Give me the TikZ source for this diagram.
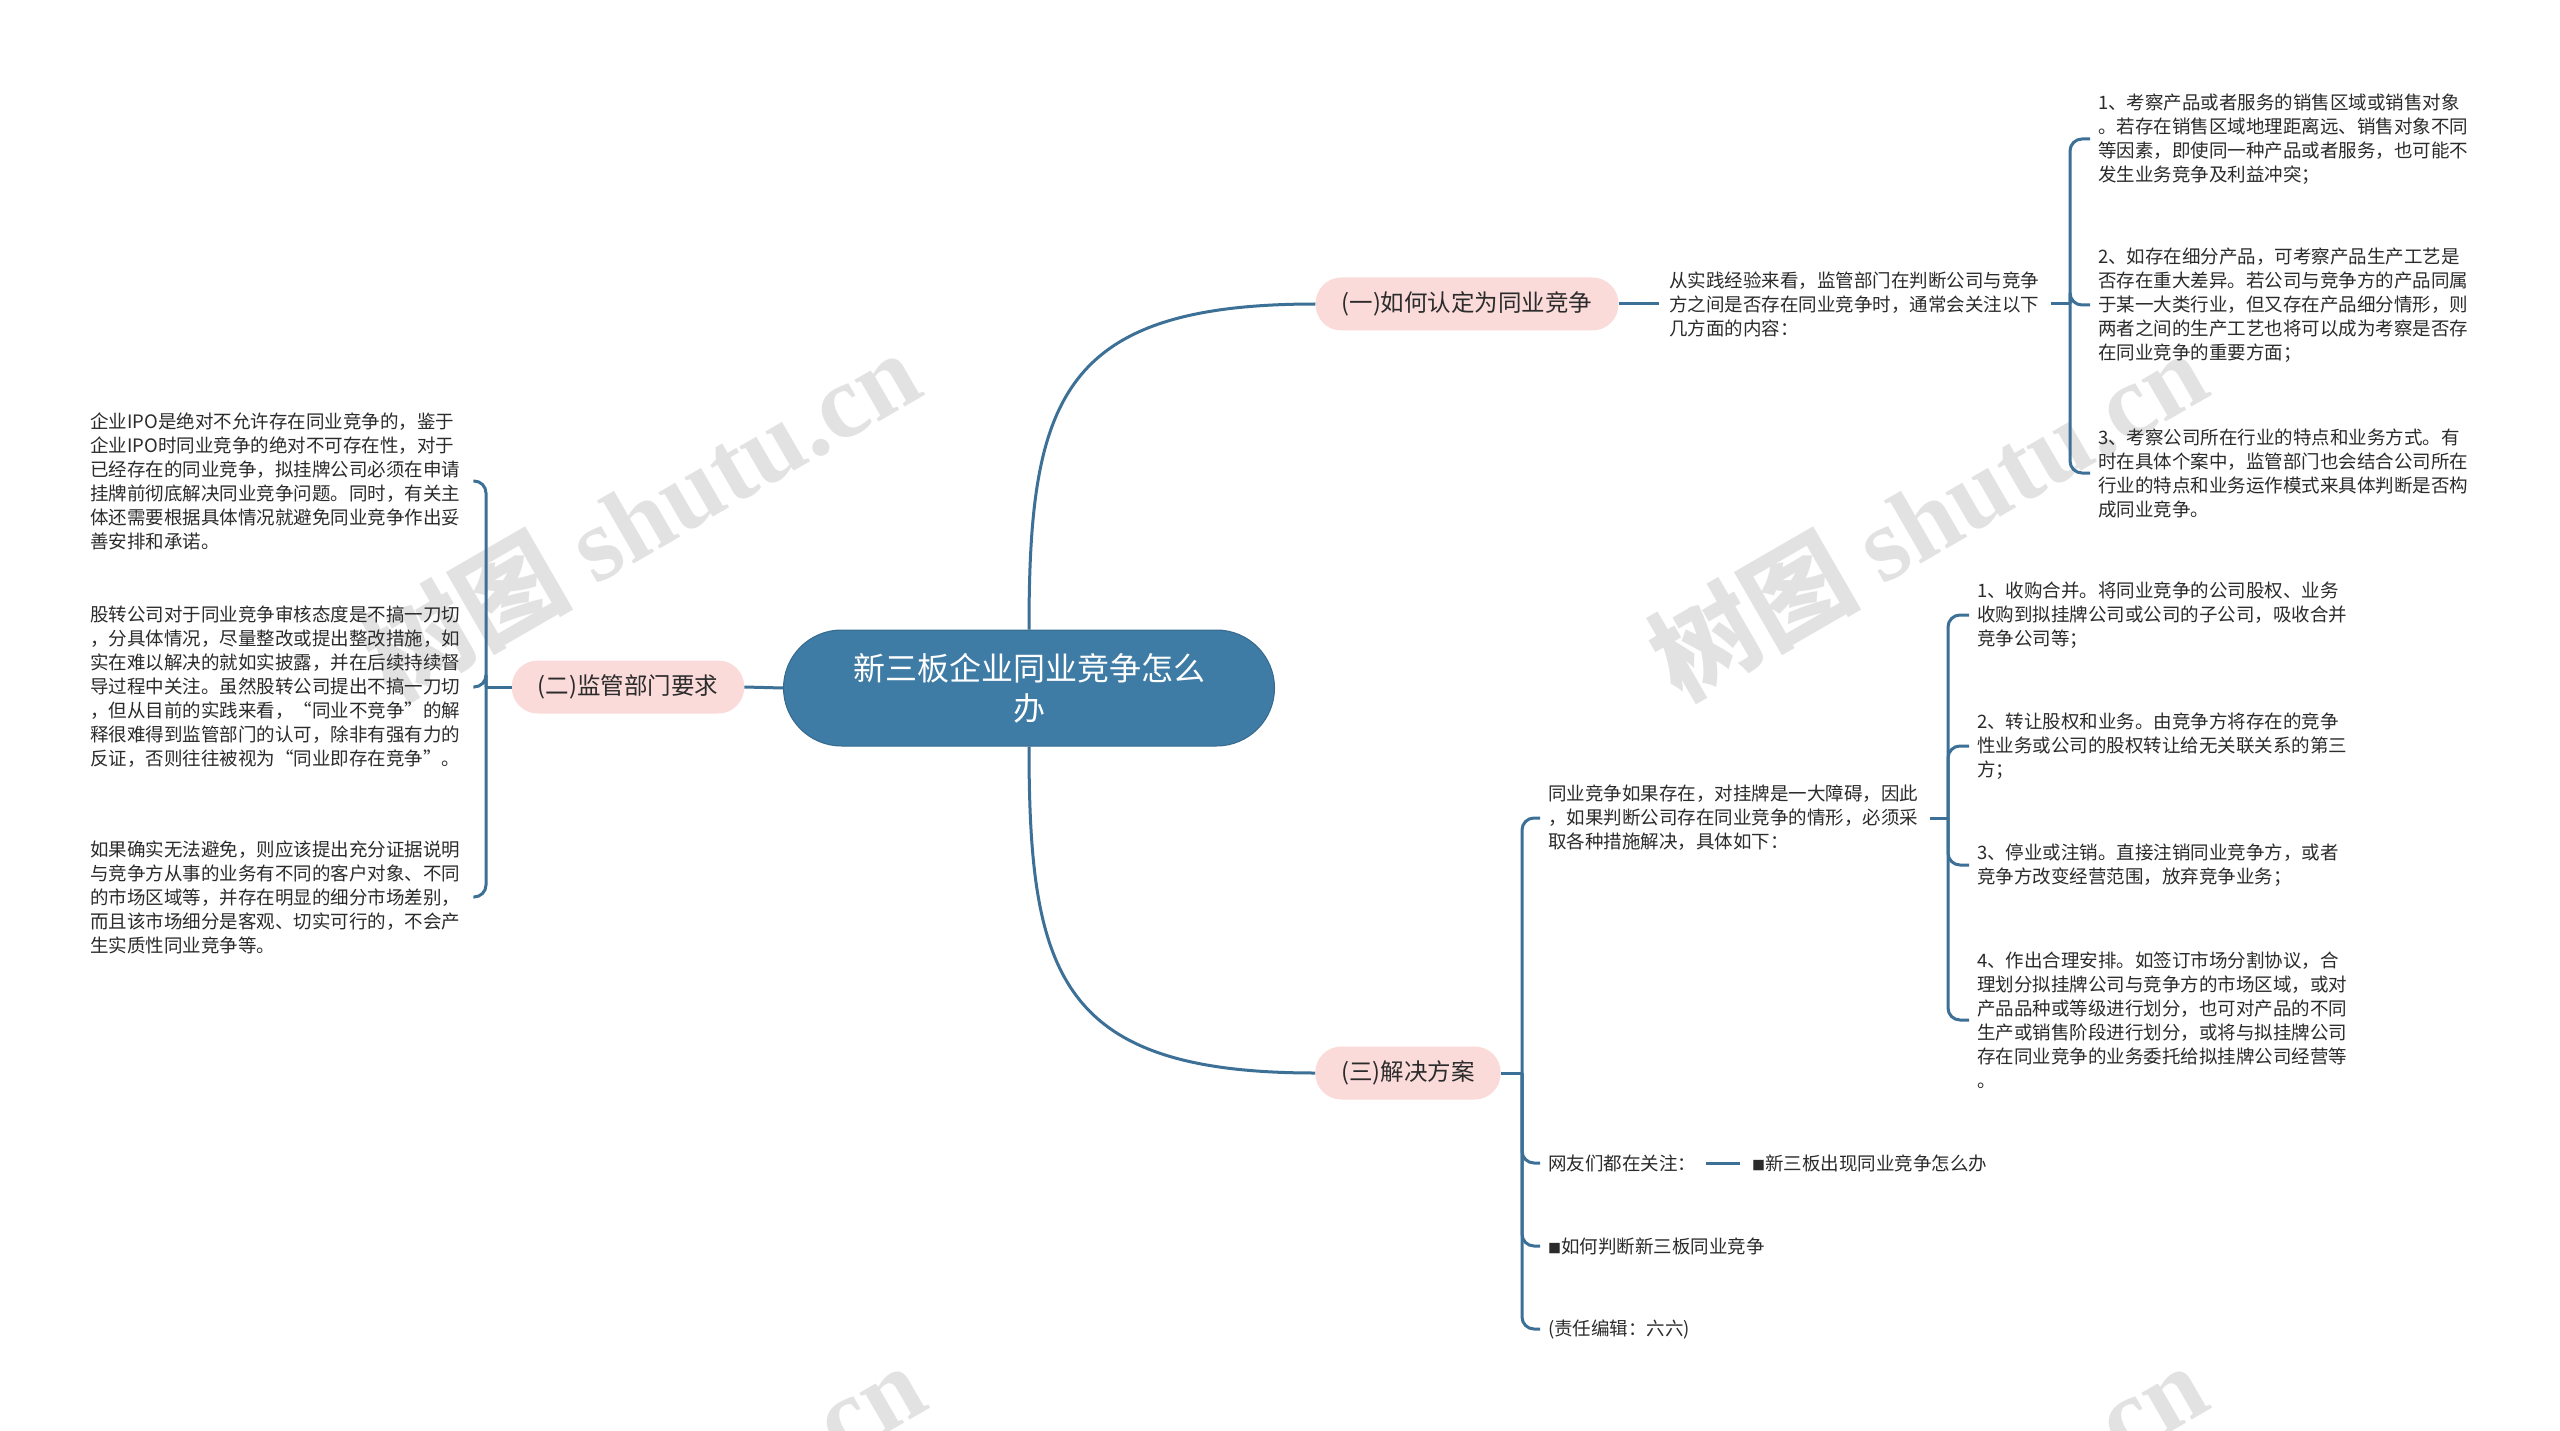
\documentclass[tikz,border=0pt]{standalone}
\usepackage{fontspec}
\setmainfont{Noto Sans CJK SC}
\newfontfamily\wmlatin{Liberation Serif}
\definecolor{lc}{HTML}{3C7096}
\definecolor{rootc}{HTML}{3E7CA6}
\definecolor{pinkc}{HTML}{FADBDA}
\definecolor{txtc}{HTML}{2B2B2B}
\newcommand{\sqmark}{{\fontsize{13}{13}\selectfont ■}}
\tikzset{
  conn/.style={draw=lc, line width=3pt},
  rootbox/.style={fill=rootc, draw=rootc!85!black, line width=1pt, rounded corners=58pt,
    minimum width=491pt, minimum height=116pt, text=white, align=center,
    font=\fontsize{32}{40}\selectfont},
  branchbox/.style={fill=pinkc, rounded corners=26pt, minimum height=53pt, inner xsep=26pt,
    inner ysep=0pt, text=txtc, font=\fontsize{23.5}{28}\selectfont},
  leaf/.style={anchor=west, inner sep=0pt, text width=375pt, align=left, text=txtc,
    font=\fontsize{18.5}{24}\selectfont},
  leafn/.style={anchor=west, inner sep=0pt, text=txtc, font=\fontsize{18.5}{24}\selectfont},
  wm/.style={rotate=30, text=black!22, opacity=0.5, font=\fontsize{105}{110}\selectfont\bfseries}
}
\begin{document}
\begin{tikzpicture}[x=1pt, y=-1pt]
\useasboundingbox (0,0) rectangle (2560,1431);
\fill[white] (0,0) rectangle (2560,1431);

% watermarks
\node[wm] (w1) at (640,514) {树图 {\wmlatin shutu.cn}};
\node[wm] (w2) at (1927,514) {树图 {\wmlatin shutu.cn}};
\node[wm] (w3) at (645,1527) {树图 {\wmlatin shutu.cn}};
\node[wm] (w4) at (1927,1527) {树图 {\wmlatin shutu.cn}};

% root and branches
\node[rootbox] (root) at (1029,688) {新三板企业同业竞争怎么\\办};
\node[branchbox] (b1) at (1467,304) {(一)如何认定为同业竞争};
\node[branchbox] (b2) at (628,687) {(二)监管部门要求};
\node[branchbox] (b3) at (1408,1073) {(三)解决方案};

\draw[conn] (root.north) .. controls (1029,400) and (1060,304) .. (b1.west);
\draw[conn] (root.south) .. controls (1029,976) and (1060,1073) .. (b3.west);
\draw[conn] (root.west) -- (b2.east);

% branch 1
\node[leaf] (d1) at (1669,304) {从实践经验来看，监管部门在判断公司与竞争\\方之间是否存在同业竞争时，通常会关注以下\\几方面的内容：};
\node[leaf] (r1) at (2098,139) {1、考察产品或者服务的销售区域或销售对象\\。若存在销售区域地理距离远、销售对象不同\\等因素，即使同一种产品或者服务，也可能不\\发生业务竞争及利益冲突；};
\node[leaf] (r2) at (2098,305) {2、如存在细分产品，可考察产品生产工艺是\\否存在重大差异。若公司与竞争方的产品同属\\于某一大类行业，但又存在产品细分情形，则\\两者之间的生产工艺也将可以成为考察是否存\\在同业竞争的重要方面；};
\node[leaf] (r3) at (2098,473) {3、考察公司所在行业的特点和业务方式。有\\时在具体个案中，监管部门也会结合公司所在\\行业的特点和业务运作模式来具体判断是否构\\成同业竞争。};
\coordinate (j1) at (2070,304);
\draw[conn] (b1.east) -- ([xshift=-10pt]d1.west);
\draw[conn] ([xshift=7pt]d1.east) -- (j1);
\foreach \c in {r1,r2,r3} \draw[conn, rounded corners=12pt] (j1) |- ([xshift=-8pt]\c.west);

% branch 2
\node[leaf] (l1) at (90,481) {企业IPO是绝对不允许存在同业竞争的，鉴于\\企业IPO时同业竞争的绝对不可存在性，对于\\已经存在的同业竞争，拟挂牌公司必须在申请\\挂牌前彻底解决同业竞争问题。同时，有关主\\体还需要根据具体情况就避免同业竞争作出妥\\善安排和承诺。};
\node[leaf] (l2) at (90,687) {股转公司对于同业竞争审核态度是不搞一刀切\\，分具体情况，尽量整改或提出整改措施，如\\实在难以解决的就如实披露，并在后续持续督\\导过程中关注。虽然股转公司提出不搞一刀切\\，但从目前的实践来看，“同业不竞争”的解\\释很难得到监管部门的认可，除非有强有力的\\反证，否则往往被视为“同业即存在竞争”。};
\node[leaf] (l3) at (90,897) {如果确实无法避免，则应该提出充分证据说明\\与竞争方从事的业务有不同的客户对象、不同\\的市场区域等，并存在明显的细分市场差别，\\而且该市场细分是客观、切实可行的，不会产\\生实质性同业竞争等。};
\coordinate (j2) at (486,687);
\draw[conn] (b2.west) -- (j2);
\foreach \c in {l1,l2,l3} \draw[conn, rounded corners=12pt] (j2) |- ([xshift=8pt]\c.east);

% branch 3
\node[leaf] (s1) at (1548,818) {同业竞争如果存在，对挂牌是一大障碍，因此\\，如果判断公司存在同业竞争的情形，必须采\\取各种措施解决，具体如下：};
\node[leafn] (s2) at (1548,1163) {网友们都在关注：};
\node[leafn] (s2b) at (1752,1163) {\sqmark 新三板出现同业竞争怎么办};
\node[leafn] (s3) at (1548,1246) {\sqmark 如何判断新三板同业竞争};
\node[leafn] (s4) at (1548,1329) {(责任编辑：六六)};
\coordinate (j3) at (1522,1073);
\draw[conn] (b3.east) -- (j3);
\foreach \c in {s1,s2,s3,s4} \draw[conn, rounded corners=12pt] (j3) |- ([xshift=-8pt]\c.west);
\draw[conn] ([xshift=10pt]s2.east) -- ([xshift=-12pt]s2b.west);

\node[leaf] (t1) at (1977,615) {1、收购合并。将同业竞争的公司股权、业务\\收购到拟挂牌公司或公司的子公司，吸收合并\\竞争公司等；};
\node[leaf] (t2) at (1977,746) {2、转让股权和业务。由竞争方将存在的竞争\\性业务或公司的股权转让给无关联关系的第三\\方；};
\node[leaf] (t3) at (1977,865) {3、停业或注销。直接注销同业竞争方，或者\\竞争方改变经营范围，放弃竞争业务；};
\node[leaf] (t4) at (1977,1020) {4、作出合理安排。如签订市场分割协议，合\\理划分拟挂牌公司与竞争方的市场区域，或对\\产品品种或等级进行划分，也可对产品的不同\\生产或销售阶段进行划分，或将与拟挂牌公司\\存在同业竞争的业务委托给拟挂牌公司经营等\\。};
\coordinate (j4) at (1948,818);
\draw[conn] ([xshift=7pt]s1.east) -- (j4);
\foreach \c in {t1,t2,t3,t4} \draw[conn, rounded corners=12pt] (j4) |- ([xshift=-8pt]\c.west);
\end{tikzpicture}
\end{document}
